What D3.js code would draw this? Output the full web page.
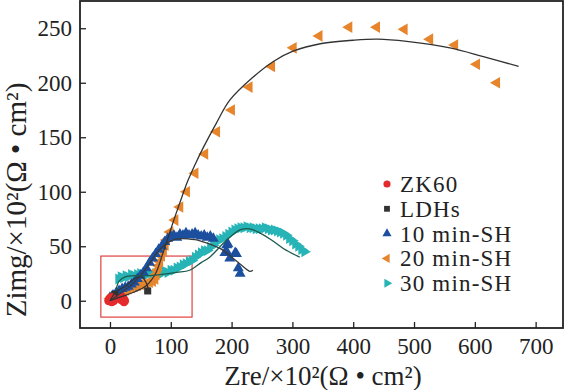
<!DOCTYPE html>
<html>
<head>
<meta charset="utf-8">
<script src="https://cdn.jsdelivr.net/npm/d3@7"></script>
<style>
  body { margin: 0; background: #fff; }
  text { font-family: "Liberation Serif", "Times New Roman", serif; fill: #222; }
</style>
</head>
<body>
<svg id="chart" width="566" height="390"></svg>
<script>
// tick labels
var xTicks = [0, 100, 200, 300, 400, 500, 600, 700];
var yTicks = [0, 50, 100, 150, 200, 250];

var seriesNames = ["ZK60", "LDHs", "10 min-SH", "20 min-SH", "30 min-SH"];

// measured points [Zre, Zimg]
var zk60 = [[-2,0],[0,2],[2,3],[4,2],[6,0],[3,-1],[18,1],[20,3],[22,2],[24,0],[23,-1]];
var ldhs = [[0,1],[4,4],[8,6],[62,9]];
var min10 = [[0,3],[5,5],[10,7],[15,9],[20,11],[25,12],[30,13],[35,15],[40,17],[45,20],
  [50,23],[55,26],[60,30],[65,35],[70,39],[75,43],[80,47],[85,50],[90,54],[95,57],
  [100,59],[105,60],[110,58],[115,61],[120,60],[125,62],[130,60],[135,61],[140,62],[145,60],
  [150,59],[155,60],[160,58],[165,59],[170,57],
  [192,51],[194,52],[189,44],[192,45],[206,44],[208,43],[197,39],[211,30],[214,25]];
var min20 = [[0,2],[3,4],[6,5],[10,6],[14,7],[18,8],[22,9],[26,10],[30,11],[35,12],
  [40,13],[45,14],[50,15],[55,15],[60,16],[65,17],[70,18],[74,20],[76,24],[78,28],
  [80,32],[82,36],[85,41],[88,46],[91,51],[93,55.7],[98.7,63],[107,74],[115,86],[126,100],
  [140,117],[156,134.6],[175.5,155],[200,175],[229,196],[266,215],[301.5,232],[344,243],
  [393,251],[438.6,251],[484,249],[526,240],[567,234.6],[603,217],[636,200]];
var min30 = [[14,20],[18,22],[22,21],[26,23],[30,22],[35,24],[40,23],[45,24],[50,25],[55,24],
  [60,24],[65,25],[70,24],[75,25],[80,26],[85,25],[90,27],[95,26],[100,28],[105,28],
  [110,30],[115,31],[120,33],[125,34],[130,36],[135,37],[140,40],[145,42],[150,44],[155,46],
  [160,46],[165,49],[170,51],[175,54],[180,56],[185,57],[190,59],[195,61],[200,63],[205,65],
  [210,66],[215,67],[220,67],[225,68],[230,67],[235,67],[240,66],[245,66],[250,66],[255,67],
  [260,66],[265,65],[270,65],[275,64],[280,63],[285,62],[290,60],[295,57],[300,55],[305,52],
  [310,50],[315,47],[320,45]];

// fitted curves
var fitLdhs = [[0,0],[10,8],[27,14],[41,20.5],[52,22],[60,16],[63,10]];
var fit10 = [[0,0],[20,8],[40,17],[60,30],[80,46],[100,55],[115,57],[140,56],[148,55],
  [181,48],[209,36],[230,27],[235,28]];
var fit20 = [[0,0],[20,4],[40,8],[60,14],[75,25],[86,42],[95,57],[105,74],[115,90],
  [128,110],[140,125],[153,140],[175,163],[197,184],[235,205],[270,220],[301,229],
  [348,236],[400,239],[440,240],[488,238],[559,232],[614,224],[672,215]];
var fit30 = [[10,10],[15,18],[25,22],[40,23],[60,23],[82,24],[110,26],[131,28],[150,35],
  [164,40],[192,55.7],[214,65],[230,66],[247,62],[265,56],[285,48],[312,40]];

var colors = ["#e42a2c", "#333333", "#1c4f9e", "#e6852c", "#27b4b6"];

var svg = d3.select("#chart");
var margin = {left: 80, top: 1, right: 3, bottom: 62};
var width = 566 - margin.left - margin.right,
    height = 390 - margin.top - margin.bottom;

var x = d3.scaleLinear().domain([-49.3, 745]).range([0, width]);
var y = d3.scaleLinear().domain([-25, 275]).range([height, 0]);

var g = svg.append("g").attr("transform", "translate(" + margin.left + "," + margin.top + ")");

// red box
g.append("rect")
  .attr("x", x(-15)).attr("y", y(41))
  .attr("width", x(135) - x(-15)).attr("height", y(-15) - y(41))
  .attr("fill", "none").attr("stroke", "#e04040").attr("stroke-width", 1.2);

function sym(type, size, rot) {
  return function(sel) {
    sel.attr("d", d3.symbol().type(type).size(size)())
      .attr("transform", function(d) {
        return "translate(" + x(d[0]) + "," + y(d[1]) + ") rotate(" + rot + ")";
      });
  };
}

var markerDefs = [
  {data: min30, type: d3.symbolTriangle, size: 52, rot: 90, c: colors[4]},
  {data: min20, type: d3.symbolTriangle, size: 58, rot: -90, c: colors[3]},
  {data: min10, type: d3.symbolTriangle, size: 52, rot: 0, c: colors[2]},
  {data: ldhs, type: d3.symbolSquare, size: 50, rot: 0, c: colors[1]},
  {data: zk60, type: d3.symbolCircle, size: 64, rot: 0, c: colors[0]}
];

markerDefs.forEach(function(m) {
  g.append("g").selectAll("path")
    .data(m.data)
    .enter().append("path")
    .attr("fill", m.c)
    .call(sym(m.type, m.size, m.rot));
});

var line = d3.line()
  .x(function(d) { return x(d[0]); })
  .y(function(d) { return y(d[1]); })
  .curve(d3.curveCatmullRom);

[[fitLdhs, "#333"], [fit10, "#3a3a3a"], [fit20, "#333"], [fit30, "#1b5a4c"]].forEach(function(f) {
  g.append("path").datum(f[0])
    .attr("d", line)
    .attr("fill", "none")
    .attr("stroke", f[1])
    .attr("stroke-width", 1.3);
});

// axes, ticks inward
var xAxis = g.append("g").attr("transform", "translate(0," + height + ")")
  .call(d3.axisBottom(x).tickValues(xTicks).tickSize(-6).tickPadding(10));
var yAxis = g.append("g")
  .call(d3.axisLeft(y).tickValues(yTicks).tickSize(-6).tickPadding(8));
[xAxis, yAxis].forEach(function(a) {
  a.select(".domain").remove();
  a.selectAll("line").attr("stroke", "#222").attr("stroke-width", 1.3);
  a.selectAll("text").style("font-size", "23px").attr("fill", "#222")
    .style("font-family", "'Liberation Serif', serif");
});

// frame
g.append("rect").attr("width", width).attr("height", height)
  .attr("fill", "none").attr("stroke", "#222").attr("stroke-width", 1.8);

// axis titles
svg.append("text")
  .attr("x", 323).attr("y", 385)
  .attr("text-anchor", "middle")
  .style("font-size", "27px")
  .text("Zre/×10²(Ω • cm²)");

svg.append("text")
  .attr("transform", "translate(26,200) rotate(-90)")
  .attr("text-anchor", "middle")
  .style("font-size", "29px")
  .text("Zimg/×10²(Ω • cm²)");

// legend
var legendTypes = [
  [d3.symbolCircle, 40, 0], [d3.symbolSquare, 34, 0], [d3.symbolTriangle, 36, 0],
  [d3.symbolTriangle, 36, -90], [d3.symbolTriangle, 36, 90]
];
var legend = svg.append("g").attr("transform", "translate(387,184)");
seriesNames.forEach(function(name, i) {
  var row = legend.append("g").attr("transform", "translate(0," + (i * 24.8) + ")");
  row.append("path")
    .attr("d", d3.symbol().type(legendTypes[i][0]).size(legendTypes[i][1])())
    .attr("transform", "rotate(" + legendTypes[i][2] + ")")
    .attr("fill", colors[i]);
  row.append("text")
    .attr("x", 13).attr("dy", "0.35em")
    .style("font-size", "23px")
    .style("letter-spacing", "1.2px")
    .text(name);
});
</script>
</body>
</html>
